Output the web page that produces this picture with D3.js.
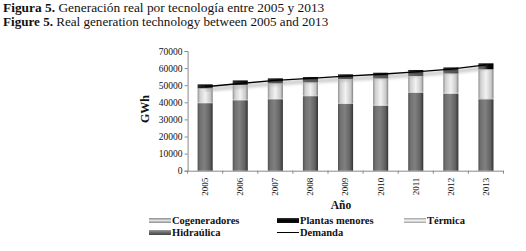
<!DOCTYPE html>
<html>
<head>
<meta charset="utf-8">
<script src="https://cdn.jsdelivr.net/npm/d3@7"></script>
<style>
  body { margin: 0; background: #fff; }
  text { font-family: "Liberation Serif", "Times New Roman", serif; }
</style>
</head>
<body>
<div id="chart"></div>
<script>
const years = ["2005", "2006", "2007", "2008", "2009", "2010", "2011", "2012", "2013"];
const hidraulica = [39500, 41200, 41800, 43600, 39000, 38000, 45600, 45000, 41800];
const cogeneradores = [400, 400, 450, 500, 500, 500, 500, 550, 600];
const termica = [8300, 8500, 8850, 7600, 14100, 15500, 9300, 11350, 16900];
const plantasMenores = [2300, 2700, 2900, 3100, 2750, 3300, 3500, 3500, 3500];
const demanda = [49100, 51000, 52800, 54000, 55300, 56400, 57800, 59400, 61900];
const yTicks = [0, 10000, 20000, 30000, 40000, 50000, 60000, 70000];

const width = 526, height = 251;
const margin = { left: 187.6, right: 22.5, top: 51, bottom: 80.3 };

const svg = d3.select("#chart").append("svg")
    .attr("width", width)
    .attr("height", height);

// gradients
const defs = svg.append("defs");
function hGrad(id, stops) {
    const g = defs.append("linearGradient").attr("id", id)
        .attr("x1", "0%").attr("x2", "100%").attr("y1", "0%").attr("y2", "0%");
    stops.forEach(([o, c]) => g.append("stop").attr("offset", o).attr("stop-color", c));
}
function vGrad(id, stops) {
    const g = defs.append("linearGradient").attr("id", id)
        .attr("x1", "0%").attr("x2", "0%").attr("y1", "0%").attr("y2", "100%");
    stops.forEach(([o, c]) => g.append("stop").attr("offset", o).attr("stop-color", c));
}
hGrad("g-hid", [["0%", "#505050"], ["15%", "#707070"], ["45%", "#808080"], ["80%", "#626262"], ["100%", "#333"]]);
hGrad("g-ter", [["0%", "#8e8e8e"], ["15%", "#cfcfcf"], ["50%", "#f2f2f2"], ["85%", "#c8c8c8"], ["100%", "#808080"]]);
hGrad("g-cog", [["0%", "#a8a8a8"], ["50%", "#e8e8e8"], ["100%", "#a0a0a0"]]);
hGrad("g-pm", [["0%", "#2a2a2a"], ["50%", "#111"], ["100%", "#000"]]);
vGrad("l-hid", [["0%", "#9a9a9a"], ["50%", "#6a6a6a"], ["100%", "#444"]]);
vGrad("l-ter", [["0%", "#a0a0a0"], ["50%", "#f0f0f0"], ["100%", "#a0a0a0"]]);
vGrad("l-cog", [["0%", "#8a8a8a"], ["50%", "#e0e0e0"], ["100%", "#8a8a8a"]]);
vGrad("l-pm", [["0%", "#333"], ["50%", "#000"], ["100%", "#111"]]);
defs.append("filter").attr("id", "blur")
    .append("feGaussianBlur").attr("stdDeviation", 1.6);

// title
const t1 = svg.append("text").attr("x", 3).attr("y", 12).style("font-size", "13.4px").attr("fill", "#111");
t1.append("tspan").style("font-weight", "bold").text("Figura 5.");
t1.append("tspan").text(" Generación real por tecnología entre 2005 y 2013");
const t2 = svg.append("text").attr("x", 3).attr("y", 26).style("font-size", "13.1px").attr("fill", "#111");
t2.append("tspan").style("font-weight", "bold").text("Figure 5.");
t2.append("tspan").text(" Real generation technology between 2005 and 2013");

// scales
const x = d3.scaleBand()
    .domain(years)
    .range([margin.left, width - margin.right])
    .paddingInner(0)
    .paddingOuter(0);

const y = d3.scaleLinear()
    .domain([0, 70000])
    .range([height - margin.bottom, margin.top]);

// stacking
const keys = ["hid", "cog", "ter", "pm"];
const fills = { hid: "url(#g-hid)", cog: "url(#g-cog)", ter: "url(#g-ter)", pm: "url(#g-pm)" };
const rows = years.map((yr, i) => ({
    year: yr,
    hid: hidraulica[i],
    cog: cogeneradores[i],
    ter: termica[i],
    pm: plantasMenores[i]
}));
const stacked = d3.stack().keys(keys)(rows);

const barW = x.bandwidth() * 0.43;

// axes
const yAxis = svg.append("g")
    .attr("transform", `translate(${margin.left},0)`)
    .call(d3.axisLeft(y).tickValues(yTicks).tickSize(3).tickFormat(d3.format("d")));
yAxis.select(".domain").attr("stroke", "#888");
yAxis.selectAll(".tick line").attr("stroke", "#888");
yAxis.selectAll(".tick text")
    .attr("x", -5)
    .style("font-family", "Liberation Serif, serif")
    .style("font-size", "9.5px")
    .attr("fill", "#111");

const xAxis = svg.append("g")
    .attr("transform", `translate(0,${y(0)})`)
    .call(d3.axisBottom(x).tickSize(0).tickSizeOuter(0));
xAxis.select(".domain").attr("stroke", "#888");
xAxis.selectAll(".tick text")
    .attr("transform", "rotate(-90)")
    .attr("x", -7)
    .attr("y", 0)
    .attr("dy", "0.32em")
    .attr("text-anchor", "end")
    .style("font-family", "Liberation Serif, serif")
    .style("font-size", "9px")
    .attr("fill", "#111");
// tick marks between categories
xAxis.selectAll(".sep")
    .data(years.concat(["end"]))
    .enter().append("line")
    .attr("x1", (d, i) => margin.left + i * x.bandwidth())
    .attr("x2", (d, i) => margin.left + i * x.bandwidth())
    .attr("y1", 0).attr("y2", 3)
    .attr("stroke", "#888");

// bars
svg.append("g").selectAll("g")
    .data(stacked)
    .enter().append("g")
    .attr("fill", d => fills[d.key])
    .selectAll("rect")
    .data(d => d)
    .enter().append("rect")
    .attr("x", d => x(d.data.year) + (x.bandwidth() - barW) / 2)
    .attr("y", d => y(d[1]))
    .attr("width", barW)
    .attr("height", d => y(d[0]) - y(d[1]));

// demand line with soft shadow
const line = d3.line()
    .x((d, i) => x(years[i]) + x.bandwidth() / 2)
    .y(d => y(d));

svg.append("path")
    .datum(demanda)
    .attr("d", line)
    .attr("transform", "translate(0,3)")
    .attr("fill", "none")
    .attr("stroke", "#aaa")
    .attr("stroke-width", 4)
    .attr("opacity", 0.6)
    .attr("filter", "url(#blur)");

svg.append("path")
    .datum(demanda)
    .attr("d", line)
    .attr("fill", "none")
    .attr("stroke", "#000")
    .attr("stroke-width", 1.3);

// axis titles
svg.append("text")
    .attr("transform", `translate(149,109) rotate(-90)`)
    .attr("text-anchor", "middle")
    .style("font-weight", "bold")
    .style("font-size", "12px")
    .attr("fill", "#111")
    .text("GWh");

svg.append("text")
    .attr("x", 341)
    .attr("y", 209)
    .attr("text-anchor", "middle")
    .style("font-weight", "bold")
    .style("font-size", "11.5px")
    .attr("fill", "#111")
    .text("Año");

// legend
const legendItems = [
    { name: "Cogeneradores", fill: "url(#l-cog)", x: 149, y: 220.5 },
    { name: "Plantas menores", fill: "url(#l-pm)", x: 277, y: 220.5 },
    { name: "Térmica", fill: "url(#l-ter)", x: 404, y: 220.5 },
    { name: "Hidraúlica", fill: "url(#l-hid)", x: 149, y: 232.5 },
    { name: "Demanda", line: true, x: 277, y: 232.5 }
];
const legend = svg.append("g");
legendItems.forEach(item => {
    const g = legend.append("g").attr("transform", `translate(${item.x},${item.y})`);
    if (item.line) {
        g.append("line").attr("x1", 0).attr("x2", 22).attr("y1", 0).attr("y2", 0)
            .attr("stroke", "#000").attr("stroke-width", 1);
    } else {
        g.append("rect").attr("x", 0).attr("y", -2.5).attr("width", 22).attr("height", 5)
            .attr("fill", item.fill);
    }
    g.append("text")
        .attr("x", 23)
        .attr("y", 0)
        .attr("dy", "0.33em")
        .style("font-weight", "bold")
        .style("font-size", "10.5px")
        .attr("fill", "#111")
        .text(item.name);
});
</script>
</body>
</html>
